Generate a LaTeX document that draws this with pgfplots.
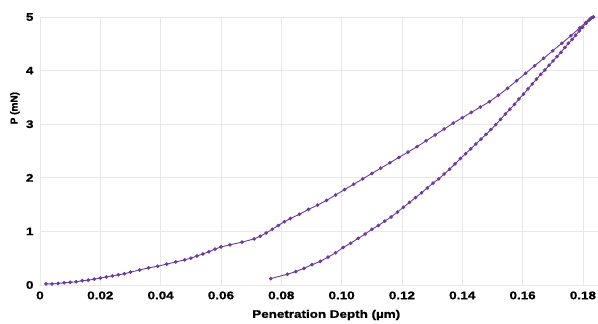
\documentclass[border=0pt]{standalone}
\usepackage{fontspec}
\setmainfont{Liberation Sans}[FakeStretch=1.22, BoldFeatures={FakeBold=1.2}]
\newfontfamily\ylabfont{Liberation Sans}[BoldFeatures={FakeBold=1.2}]
\usepackage{pgfplots}
\pgfplotsset{compat=1.18}
\definecolor{curve}{RGB}{108,58,160}
\begin{document}
\begin{tikzpicture}[x=1pt,y=1pt]
\useasboundingbox (-40,-39) rectangle (558,285);
\begin{axis}[
  at={(0,0)}, anchor=south west,
  scale only axis, width=558pt, height=268pt,
  xmin=0, xmax=0.185, ymin=0, ymax=5,
  xtick={0,0.02,0.04,0.06,0.08,0.10,0.12,0.14,0.16,0.18},
  xticklabels={0,0.02,0.04,0.06,0.08,0.10,0.12,0.14,0.16,0.18},
  ytick={0,1,2,3,4,5},
  yticklabels={0,1,2,3,4,5},
  grid=major,
  grid style={draw=black!9, line width=0.6pt},
  axis line style={draw=none},
  tick style={draw=none},
  tick label style={font=\fontsize{11}{13}\selectfont\bfseries},
  xticklabel style={yshift=-3pt},
  yticklabel style={xshift=-3pt},
  xlabel={Penetration Depth (µm)},
  ylabel={P (mN)},
  xlabel style={font=\fontsize{11}{13}\selectfont\bfseries, at={(axis description cs:0.513,0)}, anchor=center, yshift=-30pt},
  ylabel style={font=\ylabfont\fontsize{10}{12}\selectfont\bfseries, at={(axis description cs:-0.045,0.66)}, anchor=center},
  clip=false,
]
\addplot[color=curve, line width=0.9pt, mark=*, mark size=1.35pt, mark options={fill=curve, draw=curve}] coordinates {
(0.002,0.02) (0.004,0.02) (0.006,0.03) (0.008,0.04) (0.010,0.05) (0.012,0.06)
(0.014,0.08) (0.016,0.09) (0.018,0.11) (0.020,0.13) (0.022,0.15) (0.024,0.17)
(0.026,0.19) (0.028,0.21) (0.030,0.24) (0.033,0.28) (0.036,0.32) (0.039,0.35)
(0.042,0.39) (0.045,0.43) (0.048,0.47) (0.050,0.50) (0.052,0.54) (0.054,0.58)
(0.056,0.62) (0.058,0.67) (0.060,0.71) (0.063,0.75) (0.067,0.80) (0.071,0.86)
(0.073,0.91) (0.075,0.97) (0.077,1.04) (0.079,1.11) (0.081,1.18) (0.083,1.24)
(0.086,1.32) (0.089,1.41) (0.092,1.49) (0.095,1.58) (0.098,1.68) (0.101,1.78)
(0.104,1.88) (0.107,1.98) (0.110,2.08) (0.113,2.18) (0.116,2.28) (0.119,2.38)
(0.122,2.48) (0.125,2.58) (0.128,2.69) (0.131,2.80) (0.134,2.91) (0.137,3.02)
(0.140,3.12) (0.143,3.22) (0.146,3.32) (0.149,3.42) (0.152,3.54) (0.155,3.67)
(0.158,3.81) (0.161,3.95) (0.164,4.09) (0.167,4.23) (0.170,4.37) (0.173,4.51)
(0.176,4.65) (0.179,4.80) (0.181,4.90) (0.1825,4.97) (0.1835,5.00)
};
\addplot[color=curve, line width=0.9pt, mark=*, mark size=1.35pt, mark options={fill=curve, draw=curve}] coordinates {
(0.1835,5.00) (0.1828,4.98) (0.1820,4.94) (0.1810,4.88) (0.1799,4.81) (0.1788,4.74)
(0.1776,4.66) (0.1764,4.58) (0.1752,4.51) (0.1740,4.43) (0.1727,4.34) (0.1714,4.26)
(0.1701,4.18) (0.1688,4.10) (0.1674,4.01) (0.1660,3.93) (0.1646,3.84) (0.1632,3.75)
(0.1618,3.66) (0.1603,3.56) (0.1588,3.47) (0.1573,3.37) (0.1558,3.28) (0.1543,3.19)
(0.1527,3.09) (0.1511,2.99) (0.1495,2.90) (0.1479,2.81) (0.1462,2.72) (0.1445,2.63)
(0.1428,2.54) (0.1411,2.45) (0.1394,2.36) (0.1376,2.26) (0.1358,2.16) (0.1340,2.07)
(0.1322,1.98) (0.1303,1.90) (0.1284,1.81) (0.1265,1.72) (0.1245,1.63) (0.1225,1.54)
(0.1205,1.45) (0.1185,1.36) (0.1164,1.27) (0.1143,1.19) (0.1122,1.11) (0.1100,1.04)
(0.1078,0.95) (0.1055,0.87) (0.1030,0.78) (0.1005,0.70) (0.0980,0.60) (0.0955,0.52)
(0.0929,0.44) (0.0902,0.38) (0.0875,0.31) (0.0848,0.25) (0.0820,0.20) (0.0765,0.12)
};
\end{axis}
\end{tikzpicture}
\end{document}
